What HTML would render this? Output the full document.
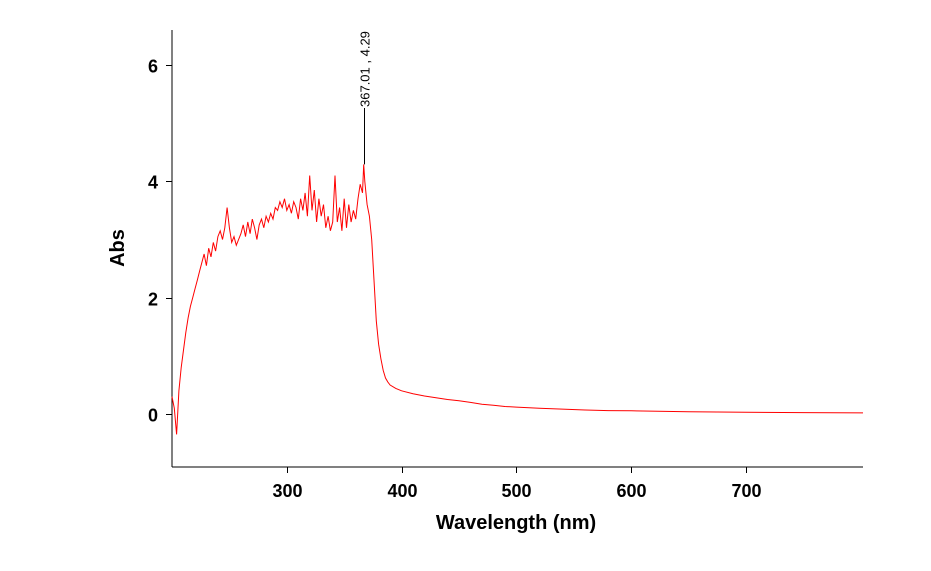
<!DOCTYPE html>
<html><head><meta charset="utf-8"><style>
body{margin:0;background:#fff;}
svg{display:block;font-family:"Liberation Sans",Arial,sans-serif;}
</style></head><body>
<svg id="chart" width="931" height="571" viewBox="0 0 931 571" xmlns="http://www.w3.org/2000/svg">
<defs><clipPath id="topclip"><rect x="0" y="30" width="931" height="437"/></clipPath></defs>
<g id="axes"></g>
<g id="series"></g>
<g id="labelgroup" clip-path="url(#topclip)"></g>
<text x="516" y="529" font-size="20" font-weight="bold" text-anchor="middle">Wavelength (nm)</text>
<text transform="translate(124,248) rotate(-90)" font-size="20" font-weight="bold" text-anchor="middle">Abs</text>
</svg>
<script>
const wavelengths=[200,202,204,206,208,210,212,214,216,218,220,222,224,226,228,230,232,234,236,238,240,242,244,246,248,250,252,254,256,258,260,262,264,266,268,270,272,274,276,278,280,282,284,286,288,290,292,294,296,298,300,302,304,306,308,310,312,314,316,318,320,322,324,326,328,330,332,334,336,338,340,342,344,346,348,350,352,354,356,358,360,362,364,366,367,368,370,372,374,376,378,380,382,384,386,388,390,395,400,410,420,430,440,450,460,470,480,490,500,520,540,560,580,600,650,700,750,802];
const absorbance=[0.3,0.1,-0.35,0.4,0.8,1.1,1.4,1.65,1.85,2.0,2.15,2.3,2.45,2.6,2.75,2.55,2.85,2.7,2.95,2.8,3.05,3.15,3.0,3.2,3.55,3.2,2.95,3.05,2.9,3.0,3.1,3.25,3.05,3.3,3.1,3.35,3.2,3.0,3.25,3.35,3.2,3.4,3.3,3.45,3.35,3.55,3.5,3.65,3.55,3.7,3.5,3.6,3.45,3.65,3.55,3.35,3.7,3.5,3.8,3.4,4.1,3.5,3.85,3.3,3.7,3.4,3.6,3.2,3.4,3.15,3.3,4.1,3.3,3.55,3.15,3.7,3.2,3.6,3.3,3.5,3.35,3.7,3.95,3.8,4.29,4.0,3.6,3.4,3.0,2.3,1.6,1.2,0.95,0.75,0.62,0.55,0.5,0.44,0.4,0.35,0.31,0.28,0.25,0.23,0.2,0.17,0.15,0.13,0.12,0.1,0.085,0.07,0.06,0.055,0.04,0.03,0.025,0.02];
const xTicks=[300,400,500,600,700];
const yTicks=[0,2,4,6];
const peakLabel="367.01 , 4.29";
const peakWl=367.01, peakAbs=4.29;

const X0=172,X1=863,Y0=30,Y1=467;
const xMin=200,xMax=802,yMin=-0.91,yMax=6.6;
const sx=v=>X0+(v-xMin)/(xMax-xMin)*(X1-X0);
const sy=v=>Y1-(v-yMin)/(yMax-yMin)*(Y1-Y0);
const NS="http://www.w3.org/2000/svg";
const axes=document.getElementById('axes'), series=document.getElementById('series'), lg=document.getElementById('labelgroup');
function mk(tag,attrs,parent){const e=document.createElementNS(NS,tag);for(const k in attrs)e.setAttribute(k,attrs[k]);parent.appendChild(e);return e;}

let l=mk('line',{x1:X0,y1:Y0,x2:X0,y2:Y1,stroke:'#000','stroke-width':1},axes);


l=mk('line',{x1:X0,y1:Y1,x2:X1,y2:Y1,stroke:'#000','stroke-width':1},axes);



xTicks.forEach(t=>{
  const x=Math.round(sx(t))+0.5;
  const tk=mk('line',{x1:x,y1:Y1,x2:x,y2:Y1+6,stroke:'#000'},axes);
  
  
  const tx=mk('text',{x:x,y:Y1+30,'font-size':18,'font-weight':'bold','text-anchor':'middle'},axes);
  tx.textContent=t;
  
  
});
yTicks.forEach(t=>{
  const y=Math.round(sy(t))+0.5;
  const tk=mk('line',{x1:X0-6,y1:y,x2:X0,y2:y,stroke:'#000'},axes);
  
  
  const tx=mk('text',{x:X0-14,y:y+7,'font-size':18,'font-weight':'bold','text-anchor':'end'},axes);
  tx.textContent=t;
  
  
});

const pts=wavelengths.map((w,i)=>sx(w).toFixed(1)+','+sy(absorbance[i]).toFixed(1)).join(' ');
const pl=mk('polyline',{points:pts,fill:'none',stroke:'#ff0000','stroke-width':1},series);



const px=Math.round(sx(peakWl))+0.5, py=sy(peakAbs);
const pline=mk('line',{x1:px,y1:py,x2:px,y2:108,stroke:'#000'},series);


const pt=mk('text',{transform:`translate(${px+5},107) rotate(-90)`,'font-size':13,'text-anchor':'start'},lg);
pt.textContent=peakLabel;


</script>
</body></html>
